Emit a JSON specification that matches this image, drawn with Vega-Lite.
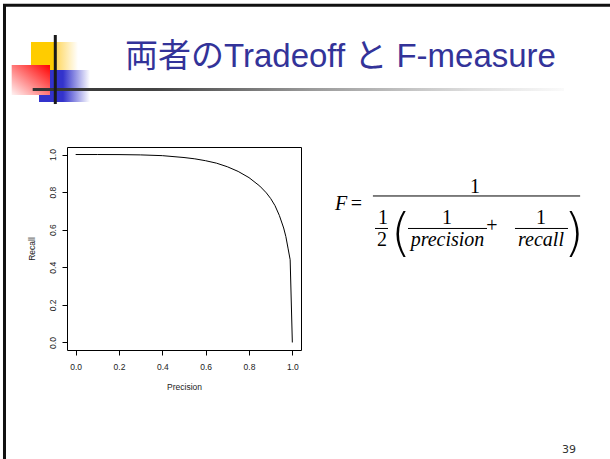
{
  "$schema": "https://vega.github.io/schema/vega-lite/v6.json",
  "width": 234,
  "height": 203,
  "autosize": {"type": "none"},
  "padding": {"left": 67, "top": 147, "right": 309, "bottom": 109},
  "background": "white",
  "config": {"view": {"stroke": "#000", "strokeWidth": 1}},
  "datasets": {
    "curve": [
      {"Precision": 0.0, "Recall": 1.0},
      {"Precision": 0.1, "Recall": 1.0},
      {"Precision": 0.2, "Recall": 0.9996},
      {"Precision": 0.3, "Recall": 0.998},
      {"Precision": 0.4, "Recall": 0.994},
      {"Precision": 0.5, "Recall": 0.984},
      {"Precision": 0.55, "Recall": 0.977},
      {"Precision": 0.6, "Recall": 0.967},
      {"Precision": 0.65, "Recall": 0.954},
      {"Precision": 0.7, "Recall": 0.935},
      {"Precision": 0.75, "Recall": 0.91},
      {"Precision": 0.8, "Recall": 0.877},
      {"Precision": 0.85, "Recall": 0.832},
      {"Precision": 0.88, "Recall": 0.796},
      {"Precision": 0.9, "Recall": 0.766},
      {"Precision": 0.92, "Recall": 0.728},
      {"Precision": 0.94, "Recall": 0.676},
      {"Precision": 0.96, "Recall": 0.609},
      {"Precision": 0.97, "Recall": 0.564},
      {"Precision": 0.98, "Recall": 0.502},
      {"Precision": 0.99, "Recall": 0.44},
      {"Precision": 1.0, "Recall": 0.0}
    ],
    "border": [{"x": -0.3285, "x2": 2.7, "y": 1.794, "y2": -0.8}],
    "yellow": [{"x": -0.2062, "x2": 0.0108, "y": 1.5988, "y2": 1.4498}],
    "blue": [{"x": -0.1692, "x2": 0.0662, "y": 1.4498, "y2": 1.2795}],
    "red": [{"x": -0.2953, "x2": -0.1185, "y": 1.4764, "y2": 1.3168}],
    "vline": [{"x": -0.094, "y": 1.636, "y2": 1.2686}],
    "hline": [{"x": -0.1983, "x2": 2.2538, "y": 1.354, "y2": 1.3381}],
    "heading": [{"t": "両者のTradeoff と F-measure", "x": 0.2277, "y": 1.4657}],
    "page": [{"t": "39", "x": 2.2769, "y": -0.5879}],
    "mathUpright": [
      {"t": "=", "x": 1.2961, "y": 0.7049},
      {"t": "1", "x": 1.843, "y": 0.7954},
      {"t": "1", "x": 1.4184, "y": 0.6305},
      {"t": "2", "x": 1.4138, "y": 0.5134},
      {"t": "1", "x": 1.7138, "y": 0.6305},
      {"t": "1", "x": 2.1476, "y": 0.6305},
      {"t": "+", "x": 1.9211, "y": 0.5879}
    ],
    "mathItalic": [
      {"t": "F", "x": 1.2246, "y": 0.7049},
      {"t": "precision", "x": 1.7161, "y": 0.5134},
      {"t": "recall", "x": 2.1476, "y": 0.5134}
    ],
    "parens": [
      {"t": "(", "x": 1.5015, "y": 0.4921},
      {"t": ")", "x": 2.3, "y": 0.4921}
    ],
    "fracLines": [
      {"x": 1.3719, "x2": 2.3283, "y": 0.7794},
      {"x": 1.3816, "x2": 1.4416, "y": 0.6065},
      {"x": 1.5339, "x2": 1.8985, "y": 0.6065},
      {"x": 2.0276, "x2": 2.2723, "y": 0.6065}
    ]
  },
  "layer": [
    {
      "data": {"name": "curve"},
      "mark": {"type": "line", "color": "#000", "strokeWidth": 1},
      "encoding": {
        "x": {
          "field": "Precision", "type": "quantitative",
          "scale": {"domain": [-0.04, 1.04], "nice": false, "zero": false},
          "axis": {
            "title": "Precision", "values": [0, 0.2, 0.4, 0.6, 0.8, 1], "format": ".1f",
            "grid": false, "domain": false, "tickSize": 5, "tickColor": "#000", "tickWidth": 1,
            "labelFont": "Liberation Sans", "labelFontSize": 8.5, "labelColor": "#222",
            "labelPadding": 7, "labelFlush": false, "labelOverlap": false,
            "titleFont": "Liberation Sans", "titleFontSize": 8.5, "titleFontWeight": "normal",
            "titleColor": "#222", "titlePadding": 12
          }
        },
        "y": {
          "field": "Recall", "type": "quantitative",
          "scale": {"domain": [-0.04, 1.04], "nice": false, "zero": false},
          "axis": {
            "title": "Recall", "values": [0, 0.2, 0.4, 0.6, 0.8, 1], "format": ".1f",
            "grid": false, "domain": false, "tickSize": 5, "tickColor": "#000", "tickWidth": 1,
            "labelFont": "Liberation Sans", "labelFontSize": 8.5, "labelColor": "#222",
            "labelAngle": -90, "labelAlign": "center", "labelBaseline": "bottom",
            "labelPadding": 5, "labelFlush": false, "labelOverlap": false,
            "titleFont": "Liberation Sans", "titleFontSize": 8.5, "titleFontWeight": "normal",
            "titleColor": "#222", "titlePadding": 12
          }
        }
      }
    },
    {
      "data": {"name": "border"},
      "mark": {"type": "rect", "fill": null, "filled": false, "stroke": "#111", "strokeWidth": 3},
      "encoding": {
        "x": {"field": "x", "type": "quantitative"}, "x2": {"field": "x2"},
        "y": {"field": "y", "type": "quantitative"}, "y2": {"field": "y2"}
      }
    },
    {
      "data": {"name": "yellow"},
      "mark": {"type": "rect", "fill": {"gradient": "linear", "x1": 0, "y1": 0, "x2": 1, "y2": 0,
        "stops": [{"offset": 0, "color": "#FFCC00"}, {"offset": 0.5, "color": "#FFCC00"}, {"offset": 0.55, "color": "#FFD966"}, {"offset": 1, "color": "#FFFFFF"}]}},
      "encoding": {
        "x": {"field": "x", "type": "quantitative"}, "x2": {"field": "x2"},
        "y": {"field": "y", "type": "quantitative"}, "y2": {"field": "y2"}
      }
    },
    {
      "data": {"name": "blue"},
      "mark": {"type": "rect", "fill": {"gradient": "linear", "x1": 0, "y1": 0, "x2": 1, "y2": 0,
        "stops": [{"offset": 0, "color": "#3333CC"}, {"offset": 0.47, "color": "#3333CC"}, {"offset": 1, "color": "#FFFFFF"}]}},
      "encoding": {
        "x": {"field": "x", "type": "quantitative"}, "x2": {"field": "x2"},
        "y": {"field": "y", "type": "quantitative"}, "y2": {"field": "y2"}
      }
    },
    {
      "data": {"name": "red"},
      "mark": {"type": "rect", "fill": {"gradient": "linear", "x1": 1, "y1": 0, "x2": 0, "y2": 1,
        "stops": [{"offset": 0, "color": "#FF0000"}, {"offset": 1, "color": "#FFF2F2"}]}},
      "encoding": {
        "x": {"field": "x", "type": "quantitative"}, "x2": {"field": "x2"},
        "y": {"field": "y", "type": "quantitative"}, "y2": {"field": "y2"}
      }
    },
    {
      "data": {"name": "hline"},
      "mark": {"type": "rect", "fill": {"gradient": "linear", "x1": 0, "y1": 0, "x2": 1, "y2": 0,
        "stops": [{"offset": 0, "color": "#333333"}, {"offset": 0.23, "color": "#444444"}, {"offset": 0.52, "color": "#999999"}, {"offset": 0.82, "color": "#DDDDDD"}, {"offset": 1, "color": "#FAFAFA"}]}},
      "encoding": {
        "x": {"field": "x", "type": "quantitative"}, "x2": {"field": "x2"},
        "y": {"field": "y", "type": "quantitative"}, "y2": {"field": "y2"}
      }
    },
    {
      "data": {"name": "vline"},
      "mark": {"type": "rule", "color": "#1a1a1a", "strokeWidth": 3},
      "encoding": {
        "x": {"field": "x", "type": "quantitative"},
        "y": {"field": "y", "type": "quantitative"}, "y2": {"field": "y2"}
      }
    },
    {
      "data": {"name": "heading"},
      "mark": {"type": "text", "align": "left", "baseline": "alphabetic", "font": "'Liberation Sans', 'Noto Sans CJK JP'", "fontSize": 33, "color": "#333399"},
      "encoding": {
        "x": {"field": "x", "type": "quantitative"},
        "y": {"field": "y", "type": "quantitative"},
        "text": {"field": "t"}
      }
    },
    {
      "data": {"name": "page"},
      "mark": {"type": "text", "align": "center", "baseline": "alphabetic", "font": "DejaVu Sans", "fontSize": 11, "color": "#333"},
      "encoding": {
        "x": {"field": "x", "type": "quantitative"},
        "y": {"field": "y", "type": "quantitative"},
        "text": {"field": "t"}
      }
    },
    {
      "data": {"name": "mathUpright"},
      "mark": {"type": "text", "align": "center", "baseline": "alphabetic", "font": "Liberation Serif", "fontSize": 20, "color": "#000"},
      "encoding": {
        "x": {"field": "x", "type": "quantitative"},
        "y": {"field": "y", "type": "quantitative"},
        "text": {"field": "t"}
      }
    },
    {
      "data": {"name": "mathItalic"},
      "mark": {"type": "text", "align": "center", "baseline": "alphabetic", "font": "Liberation Serif", "fontStyle": "italic", "fontSize": 20, "color": "#000"},
      "encoding": {
        "x": {"field": "x", "type": "quantitative"},
        "y": {"field": "y", "type": "quantitative"},
        "text": {"field": "t"}
      }
    },
    {
      "data": {"name": "parens"},
      "mark": {"type": "text", "align": "center", "baseline": "alphabetic", "font": "DejaVu Sans", "fontWeight": 200, "fontSize": 52, "color": "#000"},
      "encoding": {
        "x": {"field": "x", "type": "quantitative"},
        "y": {"field": "y", "type": "quantitative"},
        "text": {"field": "t"}
      }
    },
    {
      "data": {"name": "fracLines"},
      "mark": {"type": "rule", "color": "#000", "strokeWidth": 1},
      "encoding": {
        "x": {"field": "x", "type": "quantitative"}, "x2": {"field": "x2"},
        "y": {"field": "y", "type": "quantitative"}
      }
    }
  ]
}
